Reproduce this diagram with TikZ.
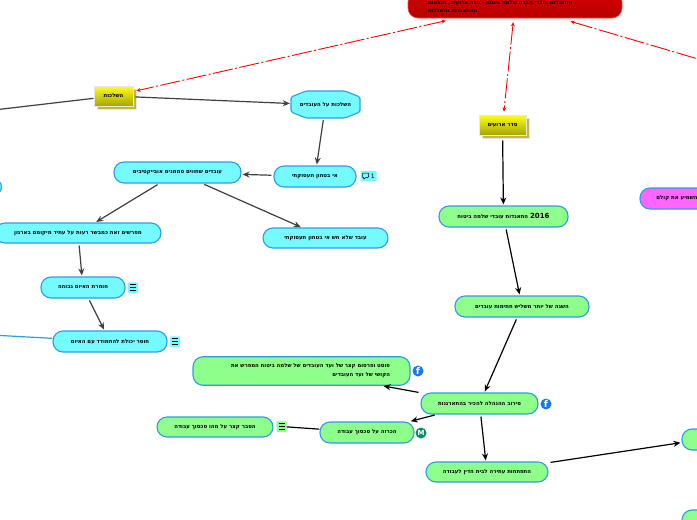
\documentclass[tikz,border=0pt]{standalone}
\usepackage{xcolor}
\usepackage{tikz}
\usepackage{fontspec}
\usetikzlibrary{arrows.meta}
\setmainfont{DejaVu Sans}
\newfontfamily\hebfont[Script=Hebrew]{DejaVu Sans}
\TeXXeTstate=1
\definecolor{topicblue}{HTML}{2F9BE6}
\definecolor{lightcyan}{HTML}{74FBFF}
\definecolor{lightgreen}{HTML}{8EFF8A}
\definecolor{pinktopic}{HTML}{FF66FF}
\definecolor{darkline}{HTML}{3C423C}
\definecolor{fbblue}{HTML}{1877F2}
\definecolor{mindgreen}{HTML}{0F8A64}
\definecolor{haloyellow}{HTML}{E8E8E8}
\pgfdeclareverticalshading{rootshade}{100bp}{
    color(0bp)=(red!80!white); color(9bp)=(red!72!black); color(30bp)=(red!72!black); color(75bp)=(red!85!black); color(100bp)=(red!85!black)}
\newcommand{\heb}[1]{{\hebfont\bfseries\beginR #1\endR}}
\tikzset{
    topic/.style={draw=topicblue, line width=1.1pt, rounded corners=10pt, inner sep=0pt,
          font=\fontsize{5.4}{9}\selectfont, align=center},
    cyantopic/.style={topic, fill=lightcyan},
    greentopic/.style={topic, fill=lightgreen},
    yellowtopic/.style={draw=haloyellow, line width=1pt, top color=yellow!90!white, bottom color=yellow!65!black,
          inner sep=0pt, font=\fontsize{5.4}{8}\selectfont},
    yellowback/.style={fill=yellow!72!black, draw=haloyellow, line width=1pt},
    roottopic/.style={rounded corners=10pt, shading=rootshade, draw=red!75!white,
          line width=0.6pt, inner ysep=0pt, inner xsep=20pt, font=\fontsize{5.4}{8}\selectfont},
    greyarrow/.style={draw=darkline, line width=1.2pt, -{Stealth[length=7pt,width=6pt]}, shorten <=2pt, shorten >=1pt},
    blackarrow/.style={draw=black, line width=1.2pt, -{Stealth[length=7pt,width=6pt]}, shorten <=2pt, shorten >=1pt},
    redarrow/.style={draw=red, line width=0.9pt, dash pattern=on 20pt off 2.5pt on 2pt off 2.5pt,
          {Stealth[length=4pt,width=4pt]}-{Stealth[length=4pt,width=4pt]}, shorten <=11pt, shorten >=3pt},
    iconbox/.style={rounded corners=1pt, minimum width=10pt, minimum height=10.5pt, inner sep=0pt},
    menubars/.style={path picture={
        \draw[black, line width=0.6pt] ([xshift=2pt,yshift=2.5pt]path picture bounding box.south west) -- ([xshift=-2pt,yshift=2.5pt]path picture bounding box.south east);
        \draw[black, line width=0.6pt] ([xshift=2pt]path picture bounding box.west) -- ([xshift=-2pt]path picture bounding box.east);
        \draw[black, line width=0.6pt] ([xshift=2pt,yshift=-2.5pt]path picture bounding box.north west) -- ([xshift=-2pt,yshift=-2.5pt]path picture bounding box.north east);
    }},
    roundicon/.style={circle, minimum size=11pt, inner sep=0pt, text=white, font=\fontsize{9.5}{9}\selectfont\bfseries}
}
\begin{document}
\begin{tikzpicture}[x=1pt, y=-1pt]
    \useasboundingbox (0,0) rectangle (697,520);
    \clip (0,0) rectangle (697,520);

    \node[roottopic, text width=174pt, minimum height=26pt, align=left] (root) at (515,5) {%
      \rule{0pt}{8pt}\heb{התאגדות עובדי חברת שלמה ביטוח - סדר ארועים, תוצאות}\\
      \heb{ההתאגדות והשלכות}};

    \node[yellowback, minimum width=39pt, minimum height=20pt] (shadowa) at (116.5,99) {};
    \node[yellowtopic, minimum width=39pt, minimum height=20pt] (hashlachot) at (113.5,96) {\heb{השלכות}};
    \node[yellowback, minimum width=47pt, minimum height=20pt] (shadowb) at (505.5,128) {};
    \node[yellowtopic, minimum width=47pt, minimum height=20pt] (seder) at (502.5,125) {\heb{סדר ארועים}};

    \draw[fill=lightcyan, draw=topicblue, line width=1.1pt, rounded corners=1.5pt]
      (291,97) -- (306,91) -- (345,91) -- (360,97) -- (360,112) -- (345,118) -- (306,118) -- (291,112) -- cycle;
    \node[inner sep=0pt, minimum width=69pt, minimum height=26pt, font=\fontsize{5.4}{8}\selectfont] (workers) at (325.5,105) {\heb{השלכות על העובדים}};

    \node[cyantopic, minimum width=82pt, minimum height=21pt] (insecure) at (315,176.5) {\heb{אי בטחון תעסוקתי}};
    \node[cyantopic, minimum width=127pt, minimum height=21pt] (objective) at (177.5,172.5) {\heb{עובדים שחווים סממנים אובייקטיבים}};
    \node[cyantopic, minimum width=125pt, minimum height=20pt] (nofear) at (325.5,238) {\heb{עובד שלא חש אי בטחון תעסוקתי}};
    \node[cyantopic, minimum width=166pt, minimum height=20pt] (omen) at (78,233) {\heb{מפרשים זאת כמבשר רעות על עתיד מיקומם בארגון}};
    \node[cyantopic, minimum width=84pt, minimum height=21pt] (threat) at (83,287.5) {\heb{חומרת האיום גבוהה}};
    \node[cyantopic, minimum width=114pt, minimum height=21pt] (coping) at (110,341.5) {\heb{חוסר יכולת להתמודד עם האיום}};

    \node[greentopic, minimum width=129pt, minimum height=21pt] (union) at (503.5,216.5) {\heb{\beginL{\fontsize{7}{8}\selectfont\bfseries 2016}\endL{} התאגדות עובדי שלמה ביטוח}};
    \node[greentopic, minimum width=134pt, minimum height=21pt] (third) at (522,306.5) {\heb{השגה של יותר משליש חתימות עובדים}};
    \node[greentopic, minimum width=117pt, minimum height=21pt] (refusal) at (479.5,403.5) {\heb{סירוב ההנהלה להכיר בהתארגנות}};
    \node[greentopic, minimum width=122pt, minimum height=20pt] (petition) at (487,472) {\heb{התפתחות עתירה לבית הדין לעבודה}};
    \node[greentopic, inner xsep=20pt, text width=177pt, minimum height=28.5pt, align=right] (post) at (301.5,371) {%
      \heb{פוסט ופרסום קצר של ועד העובדים של שלמה ביטוח המפרש את}\\
      \heb{הקושי של ועד העובדים}};
    \node[greentopic, minimum width=94pt, minimum height=21pt] (dispute) at (367,432.5) {\heb{הכרזה על סכסוך עבודה}};
    \node[greentopic, minimum width=116pt, minimum height=20pt] (explain) at (215,427) {\heb{הסבר קצר על מהו סכסוך עבודה}};
    \node[greentopic, minimum width=40pt, minimum height=21pt] (courta) at (702,439.5) {};
    \node[greentopic, minimum width=40pt, minimum height=21pt] (courtb) at (702,520.5) {};
    \node[cyantopic, minimum width=20pt, minimum height=16pt, rounded corners=8pt] (leftstub) at (-8.5,187) {};
    \node[topic, fill=pinktopic, minimum width=120pt, minimum height=21pt] (voice) at (700,198.5) {\hspace*{-46pt}\heb{השמיע את קולם}};

    \node[iconbox, fill=lightcyan, minimum width=16pt] (noteicon) at (368.5,176) {};
    \draw[black, line width=0.5pt, rounded corners=0.8pt] (362.5,173) -- (368.5,173) -- (368.5,177.5) -- (365.5,177.5) -- (363.8,179.5) -- (363.8,177.5) -- (362.5,177.5) -- cycle;
    \node[inner sep=0pt, font=\fontsize{6}{6}\selectfont] (notecount) at (372.8,176) {1};
    \node[iconbox, fill=lightcyan, menubars] (threaticon) at (133,287.5) {};
    \node[iconbox, fill=lightcyan, menubars] (copingicon) at (175,341.5) {};
    \node[iconbox, fill=lightgreen, menubars] (explainicon) at (281.5,426.5) {};
    \node[roundicon, fill=fbblue] (fbrefusal) at (546,404) {f};
    \node[roundicon, fill=fbblue] (fbpost) at (418,371) {f};
    \node[roundicon, fill=mindgreen, font=\fontsize{7}{7}\selectfont\bfseries] (mdispute) at (421,433) {M};

    \coordinate (offleft) at (-100,121);
    \coordinate (offblue) at (-100,330);
    \coordinate (offright) at (820,95);

    \draw[redarrow] (root) -- (hashlachot);
    \draw[redarrow, shorten <=4pt] (root) -- (seder);
    \draw[redarrow] (root) -- (offright);

    \draw[draw=darkline, line width=1.2pt] (hashlachot) -- (offleft);
    \draw[draw=topicblue, line width=1.2pt] (coping) -- (offblue);
    \draw[greyarrow] (hashlachot) -- (workers);
    \draw[greyarrow] (workers) -- (insecure);
    \draw[greyarrow] (insecure) -- (objective);
    \draw[greyarrow] (objective) -- (omen);
    \draw[greyarrow] (objective) -- (nofear);
    \draw[greyarrow] (omen) -- (threat);
    \draw[greyarrow] (threat) -- (coping);

    \draw[blackarrow, shorten <=5pt] (seder) -- (union);
    \draw[blackarrow] (union) -- (third);
    \draw[blackarrow] (third) -- (refusal);
    \draw[blackarrow] (refusal) -- (post);
    \draw[blackarrow] (refusal) -- (dispute);
    \draw[blackarrow] (refusal) -- (petition);
    \draw[blackarrow] (petition) -- (courta);
    \draw[draw=black, line width=1.2pt] (dispute) -- (explainicon);
\end{tikzpicture}
\end{document}
